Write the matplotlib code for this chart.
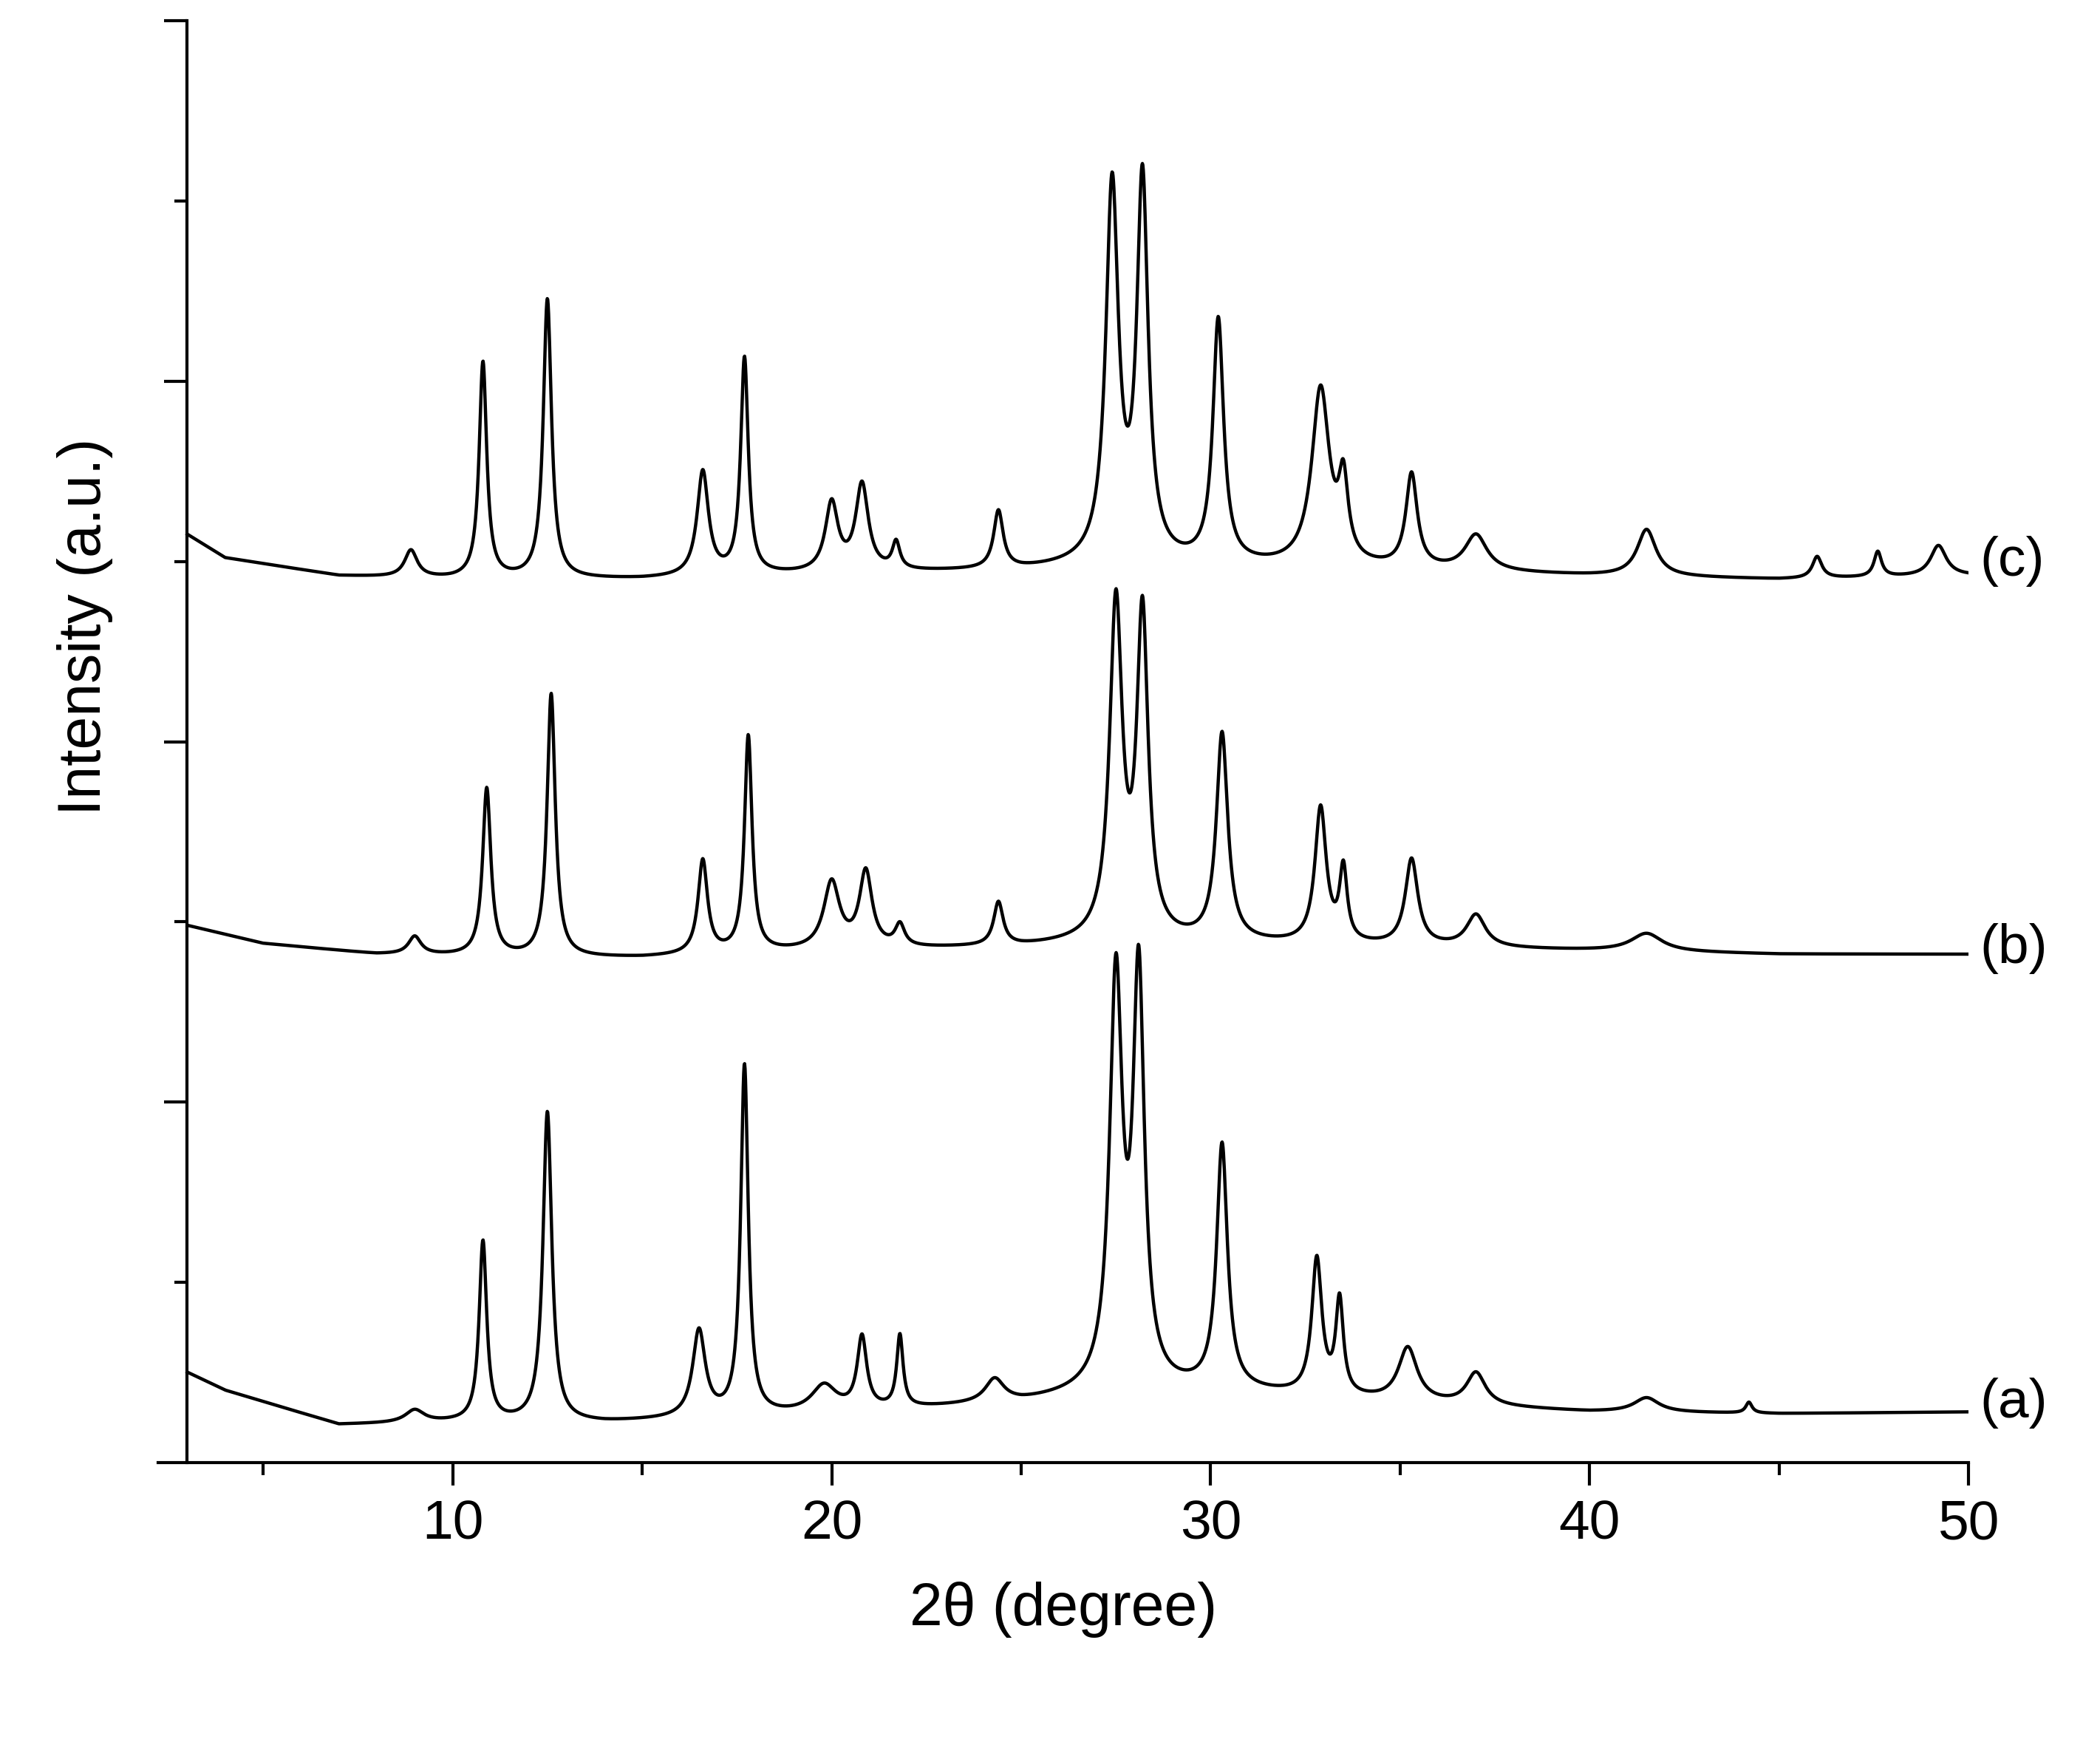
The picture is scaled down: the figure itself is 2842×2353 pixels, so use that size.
import numpy as np
import matplotlib
matplotlib.use("Agg")
import matplotlib.pyplot as plt

plt.rcParams['font.family'] = ['Liberation Sans', 'DejaVu Sans']

# baseline points (2theta, intensity) and peaks (position, height above baseline, half width)
base_a_x = [3, 4, 7, 10, 14, 20, 25, 27, 30, 35, 40, 45, 50]
base_a_y = [0.50, 0.40, 0.21, 0.22, 0.22, 0.27, 0.33, 0.38, 0.40, 0.33, 0.28, 0.27, 0.28]
peaks_a_pos = [9.0, 10.8, 12.5, 16.5, 17.7, 19.8, 20.8, 21.8, 24.3, 27.5, 28.1, 30.3, 32.8, 33.4, 35.2, 37.0, 41.5, 44.2]
peaks_a_h = [0.07, 1.0, 1.72, 0.48, 1.94, 0.15, 0.40, 0.40, 0.13, 2.25, 2.25, 1.35, 0.75, 0.52, 0.30, 0.18, 0.08, 0.06]
peaks_a_w = [0.3, 0.12, 0.14, 0.2, 0.12, 0.4, 0.15, 0.1, 0.3, 0.2, 0.18, 0.17, 0.16, 0.12, 0.3, 0.3, 0.4, 0.1]

base_b_x = [3, 5, 8, 12, 15, 20, 25, 27, 30, 35, 40, 45, 50]
base_b_y = [2.98, 2.88, 2.82, 2.80, 2.80, 2.84, 2.86, 2.88, 2.88, 2.86, 2.84, 2.82, 2.82]
peaks_b_pos = [9.0, 10.9, 12.6, 16.6, 17.8, 20.0, 20.9, 21.8, 24.4, 27.5, 28.2, 30.3, 32.9, 33.5, 35.3, 37.0, 41.5]
peaks_b_h = [0.10, 0.93, 1.46, 0.52, 1.20, 0.37, 0.42, 0.12, 0.24, 1.85, 1.78, 1.15, 0.75, 0.40, 0.48, 0.18, 0.10]
peaks_b_w = [0.2, 0.13, 0.13, 0.15, 0.12, 0.25, 0.2, 0.15, 0.15, 0.2, 0.18, 0.18, 0.18, 0.12, 0.2, 0.3, 0.5]

base_c_x = [3, 4, 7, 10, 15, 20, 25, 27, 30, 35, 40, 45, 50]
base_c_y = [5.15, 5.02, 4.92, 4.90, 4.90, 4.93, 4.95, 4.97, 4.97, 4.95, 4.92, 4.90, 4.92]
peaks_c_pos = [8.9, 10.8, 12.5, 16.6, 17.7, 20.0, 20.8, 21.7, 24.4, 27.4, 28.2, 30.2, 32.9, 33.5, 35.3, 37.0, 41.5, 46.0, 47.6, 49.2]
peaks_c_h = [0.15, 1.20, 1.55, 0.58, 1.20, 0.38, 0.48, 0.15, 0.32, 2.08, 2.10, 1.35, 0.98, 0.42, 0.52, 0.20, 0.26, 0.12, 0.14, 0.17]
peaks_c_w = [0.2, 0.12, 0.13, 0.18, 0.12, 0.2, 0.2, 0.12, 0.15, 0.2, 0.18, 0.17, 0.28, 0.15, 0.18, 0.35, 0.3, 0.15, 0.12, 0.25]

labels = ['(a)', '(b)', '(c)']
label_y = [0.33, 2.85, 5.0]

x = np.linspace(3, 50, 4000)

def pattern(bx, by, pos, h, w):
    y = np.interp(x, bx, by)
    for p, hh, ww in zip(pos, h, w):
        y = y + hh / (1 + ((x - p) / ww) ** 2)
    return y

fig = plt.figure(figsize=(28.42, 23.53), dpi=100)
ax = fig.add_axes([0.0753, 0.159, 0.8622, 0.829])
series = [(base_a_x, base_a_y, peaks_a_pos, peaks_a_h, peaks_a_w),
          (base_b_x, base_b_y, peaks_b_pos, peaks_b_h, peaks_b_w),
          (base_c_x, base_c_y, peaks_c_pos, peaks_c_h, peaks_c_w)]
for s, lab, ly in zip(series, labels, label_y):
    ax.plot(x, pattern(*s), color='black', lw=3.2)
    ax.text(50.3, ly, lab, fontsize=54, va='center', ha='left')

ax.set_xlim(2.23, 50)
ax.set_ylim(0, 8)
ax.spines['top'].set_visible(False)
ax.spines['right'].set_visible(False)
ax.spines['left'].set_position(('data', 3))
for sp in ax.spines.values():
    sp.set_linewidth(3)
ax.set_xticks([10, 20, 30, 40, 50])
ax.set_xticks([5, 15, 25, 35, 45], minor=True)
ax.set_yticks([2, 4, 6, 8])
ax.set_yticks([1, 3, 5, 7], minor=True)
ax.set_yticklabels([])
ax.tick_params(which='major', length=22, width=3, labelsize=54, pad=14)
ax.tick_params(which='minor', length=12, width=3)
ax.set_xlabel('2θ (degree)', fontsize=58, labelpad=30)
ax.set_ylabel('Intensity (a.u.)', fontsize=58, labelpad=10)
ax.yaxis.set_label_coords(-0.025, 0.58)
fig.savefig('out.png', dpi=100)
